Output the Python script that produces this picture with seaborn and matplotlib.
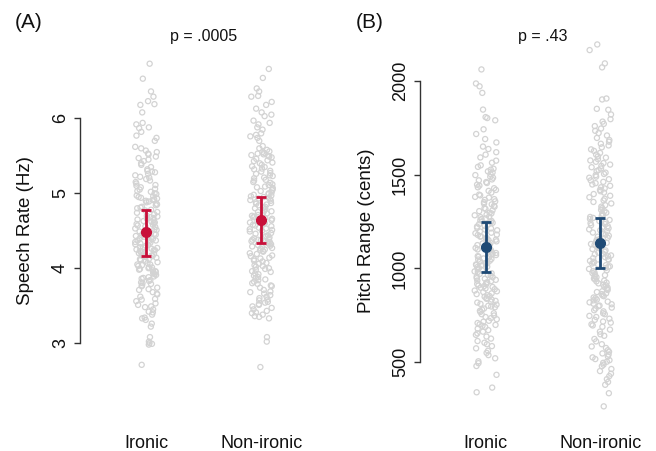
import matplotlib
matplotlib.use("Agg")
import matplotlib.pyplot as plt
import seaborn as sns
import pandas as pd
import numpy as np

# ---------------- data ----------------
categories = ["Ironic", "Non-ironic"]

rate_ironic = [
    2.71, 2.98, 2.99, 3.00, 3.02, 3.08, 3.22,
    3.26, 3.31, 3.33, 3.34, 3.38, 3.41, 3.42, 3.45, 3.48, 3.49,
    3.51, 3.53, 3.56, 3.58, 3.59, 3.62, 3.65, 3.66, 3.68, 3.71, 3.72, 3.74,
    3.76, 3.77, 3.79, 3.80, 3.81, 3.83, 3.84, 3.86, 3.87, 3.88, 3.89, 3.91,
    3.92, 3.93, 3.95, 3.95, 3.96, 3.97, 3.98, 3.99,
    4.00, 4.01, 4.01, 4.03, 4.04, 4.05, 4.05, 4.07, 4.08, 4.10, 4.11, 4.12,
    4.12, 4.14, 4.15, 4.16, 4.17, 4.17, 4.19, 4.20, 4.21, 4.22, 4.23, 4.24, 4.24,
    4.25, 4.26, 4.27, 4.28, 4.28, 4.30, 4.31, 4.32, 4.33, 4.34, 4.35, 4.36,
    4.37, 4.37, 4.38, 4.39, 4.40, 4.41, 4.42, 4.43, 4.44, 4.45, 4.46, 4.47, 4.49,
    4.50, 4.51, 4.52, 4.53, 4.55, 4.56, 4.57, 4.58, 4.59, 4.60, 4.61, 4.62,
    4.63, 4.64, 4.65, 4.66, 4.67, 4.68, 4.69, 4.70, 4.72, 4.74,
    4.75, 4.77, 4.78, 4.80, 4.81, 4.82, 4.84, 4.85, 4.86, 4.88, 4.89, 4.90,
    4.91, 4.92, 4.93, 4.94, 4.95, 4.96, 4.97, 4.99,
    5.00, 5.02, 5.03, 5.05, 5.06, 5.08, 5.10, 5.11, 5.13, 5.15, 5.17, 5.19,
    5.21, 5.22, 5.24,
    5.26, 5.28, 5.29, 5.30, 5.32, 5.35, 5.38, 5.40, 5.43, 5.45, 5.47, 5.49,
    5.52, 5.53, 5.55, 5.57, 5.60, 5.62, 5.70, 5.74,
    5.77, 5.82, 5.87, 5.88, 5.92, 5.94,
    6.08, 6.18, 6.19, 6.23, 6.29, 6.36, 6.53, 6.73,
]

rate_nonironic = [
    2.68, 3.02, 3.08,
    3.33, 3.35, 3.36, 3.38, 3.40, 3.41, 3.43, 3.45, 3.47, 3.49,
    3.51, 3.52, 3.54, 3.55, 3.57, 3.58, 3.60, 3.62, 3.64, 3.66, 3.68, 3.69, 3.71, 3.74,
    3.76, 3.77, 3.79, 3.80, 3.82, 3.84, 3.85, 3.87, 3.88, 3.90, 3.92, 3.93,
    3.95, 3.96, 3.98, 3.99,
    4.00, 4.02, 4.03, 4.04, 4.06, 4.07, 4.09, 4.10, 4.12, 4.13, 4.14, 4.16,
    4.17, 4.19, 4.20, 4.22, 4.23, 4.24,
    4.25, 4.26, 4.27, 4.28, 4.29, 4.30, 4.31, 4.32, 4.33, 4.34, 4.35, 4.36,
    4.37, 4.38, 4.38, 4.39, 4.40, 4.41, 4.42, 4.43, 4.44, 4.46, 4.47, 4.49,
    4.50, 4.51, 4.52, 4.53, 4.54, 4.56, 4.57, 4.58, 4.59, 4.60, 4.61, 4.62,
    4.63, 4.64, 4.66, 4.67, 4.68, 4.69, 4.70, 4.71, 4.73, 4.74,
    4.75, 4.76, 4.77, 4.79, 4.80, 4.81, 4.82, 4.84, 4.85, 4.86, 4.87, 4.88,
    4.90, 4.91, 4.92, 4.93, 4.94, 4.95, 4.96, 4.97, 4.98, 4.99,
    5.00, 5.01, 5.03, 5.04, 5.05, 5.07, 5.08, 5.09, 5.11, 5.12, 5.14, 5.15,
    5.17, 5.18, 5.20, 5.21, 5.23, 5.24,
    5.26, 5.27, 5.29, 5.30, 5.32, 5.33, 5.35, 5.36, 5.38, 5.40, 5.41, 5.43,
    5.44, 5.46, 5.48, 5.49,
    5.50, 5.51, 5.52, 5.53, 5.54, 5.55, 5.56, 5.58, 5.60, 5.63, 5.70, 5.74,
    5.76, 5.78, 5.80, 5.85, 5.88, 5.92, 5.94, 5.97,
    6.03, 6.05, 6.08, 6.13, 6.18, 6.22, 6.29, 6.30, 6.36, 6.40, 6.54, 6.66,
]

pitch_ironic = [
    340, 365, 433, 480, 495,
    505, 521, 538, 550, 561, 574, 586, 596,
    604, 613, 626, 637, 646, 654, 663, 671, 679, 688, 694, 699,
    702, 709, 716, 721, 729, 735, 741, 749, 756, 761, 768, 774, 781, 786, 793, 797,
    801, 807, 811, 818, 823, 827, 834, 838, 842, 849, 852, 857, 863, 867, 874,
    878, 882, 889, 893, 897,
    901, 906, 909, 915, 917, 923, 926, 932, 935, 939, 945, 948, 953, 956, 962,
    965, 971, 974, 981, 984, 991, 995,
    1002, 1007, 1009, 1015, 1018, 1021, 1027, 1029, 1035, 1038, 1041, 1047,
    1050, 1053, 1059, 1062, 1065, 1071, 1073, 1079, 1082, 1089, 1092, 1098,
    1101, 1107, 1109, 1116, 1118, 1124, 1127, 1133, 1136, 1142, 1144, 1151,
    1153, 1160, 1162, 1169, 1171, 1178, 1180, 1187, 1190, 1197,
    1203, 1207, 1213, 1216, 1223, 1226, 1233, 1236, 1243, 1246, 1253, 1256,
    1263, 1266, 1273, 1276, 1283, 1286, 1293, 1296,
    1305, 1309, 1317, 1321, 1329, 1333, 1341, 1345, 1353, 1357, 1365, 1369,
    1377, 1381, 1389, 1393,
    1404, 1413, 1418, 1427, 1432, 1441, 1446, 1455, 1460, 1469, 1474, 1483, 1488, 1497,
    1503, 1511, 1517, 1526, 1531, 1541, 1549, 1563, 1574, 1591,
    1606, 1619, 1636, 1649, 1671, 1689,
    1716, 1741, 1789, 1801, 1806, 1846,
    1935, 1970, 1985, 2060,
]

pitch_nonironic = [
    265, 335, 380, 395,
    410, 426, 439, 453, 464, 479, 487, 497,
    503, 511, 517, 526, 531, 541, 547, 556, 564, 576, 584, 596,
    611, 624, 641, 649, 663, 674, 689, 696,
    702, 711, 717, 726, 732, 741, 747, 756, 761, 771, 777, 786, 791, 799,
    802, 809, 812, 819, 823, 830, 834, 841, 845, 852, 856, 863, 867, 874, 878,
    885, 889, 897,
    903, 909, 913, 920, 924, 931, 935, 942, 946, 953, 957, 964, 968, 975, 979,
    986, 990, 997,
    1002, 1008, 1011, 1017, 1021, 1026, 1031, 1036, 1040, 1046, 1049, 1055,
    1060, 1064, 1069, 1075, 1078, 1084, 1089, 1096,
    1103, 1108, 1114, 1119, 1125, 1130, 1136, 1141, 1147, 1152, 1158, 1163,
    1169, 1174, 1180, 1185, 1191, 1197,
    1203, 1208, 1214, 1219, 1225, 1230, 1236, 1241, 1247, 1252, 1258, 1263,
    1269, 1274, 1280, 1285, 1291, 1297,
    1305, 1312, 1321, 1329, 1337, 1346, 1354, 1362, 1371, 1379, 1387, 1396,
    1404, 1411, 1418, 1426, 1432, 1440, 1447, 1454, 1461, 1469, 1475, 1483,
    1489, 1497,
    1503, 1510, 1518, 1524, 1532, 1539, 1546, 1553, 1561, 1568, 1575, 1582,
    1590, 1597,
    1606, 1615, 1626, 1634, 1645, 1655, 1664, 1675, 1684, 1695,
    1708, 1721, 1733, 1745, 1758, 1770, 1782, 1795,
    1820, 1845, 1850, 1900, 1905,
    2071, 2092, 2163, 2193,
]

# summary estimates with interval
rate_mean = [4.48, 4.64]
rate_lo = [4.16, 4.33]
rate_hi = [4.78, 4.95]
pitch_mean = [1116, 1137]
pitch_lo = [981, 1004]
pitch_hi = [1249, 1269]

p_labels = ["p = .0005", "p = .43"]
panel_tags = ["(A)", "(B)"]
ylabels = ["Speech Rate (Hz)", "Pitch Range (cents)"]
rate_ticks = [3, 4, 5, 6]
pitch_ticks = [500, 1000, 1500, 2000]

# ---------------- build frames ----------------
df_rate = pd.DataFrame({
    "cond": [categories[0]] * len(rate_ironic) + [categories[1]] * len(rate_nonironic),
    "val": rate_ironic + rate_nonironic,
})
df_pitch = pd.DataFrame({
    "cond": [categories[0]] * len(pitch_ironic) + [categories[1]] * len(pitch_nonironic),
    "val": pitch_ironic + pitch_nonironic,
})

sns.set_theme(style="white")
plt.rcParams["font.family"] = ["Liberation Sans", "DejaVu Sans"]

W, H = 656, 451
fig = plt.figure(figsize=(W / 100, H / 100), dpi=100)

point_gray = "#d3d3d3"
red = "#c8103a"
blue = "#1f4a75"
txt = "#111111"

panels = [
    dict(df=df_rate, left=80, width=240, xlim=(-0.575, 1.51), ylim=(1.96, 7.18),
         ticks=rate_ticks, mean=rate_mean, lo=rate_lo, hi=rate_hi, color=red,
         ylab_x=-0.19, tag_x=15),
    dict(df=df_pitch, left=420, width=232, xlim=(-0.575, 1.45), ylim=(187, 2270),
         ticks=pitch_ticks, mean=pitch_mean, lo=pitch_lo, hi=pitch_hi, color=blue,
         ylab_x=-0.195, tag_x=356),
]

ax_top, ax_bot = 30, 421
for i, p in enumerate(panels):
    ax = fig.add_axes([p["left"] / W, (H - ax_bot) / H, p["width"] / W, (ax_bot - ax_top) / H])
    sns.stripplot(data=p["df"], x="cond", y="val", order=categories, ax=ax,
                  jitter=0.1, size=3.7, color=point_gray, linewidth=0.9,
                  edgecolor=point_gray, zorder=1)
    for coll in ax.collections:
        coll.set_facecolor("none")
        coll.set_edgecolor(point_gray)
        coll.set_linewidth(0.9)

    xs = np.arange(len(categories))
    mean = np.array(p["mean"])
    yerr = np.vstack([mean - np.array(p["lo"]), np.array(p["hi"]) - mean])
    ax.errorbar(xs, mean, yerr=yerr, fmt="o", color=p["color"], ecolor=p["color"],
                elinewidth=2.0, capsize=3.8, capthick=2.0, markersize=7, zorder=5)

    ax.set_xlim(*p["xlim"])
    ax.set_ylim(*p["ylim"])
    ax.set_yticks(p["ticks"])
    ax.set_yticklabels([str(t) for t in p["ticks"]])
    for sp in ["top", "right", "bottom"]:
        ax.spines[sp].set_visible(False)
    ax.spines["left"].set_bounds(p["ticks"][0], p["ticks"][-1])
    ax.spines["left"].set_color("#333333")
    ax.spines["left"].set_linewidth(1.0)
    ax.tick_params(axis="y", length=4, width=1.0, color="#333333", pad=4,
                   labelsize=13, labelcolor=txt, left=True)
    for lbl in ax.get_yticklabels():
        lbl.set_rotation(90)
        lbl.set_va("center")
        lbl.set_ha("right")
    ax.tick_params(axis="x", length=0, pad=10, labelsize=13, labelcolor=txt)
    ax.set_xlabel("")
    ax.set_ylabel(ylabels[i], fontsize=13.5, color=txt)
    ax.yaxis.set_label_coords(p["ylab_x"], 0.486)
    ax.grid(False)
    ax.patch.set_alpha(0)

    ax.text(0.5, (ax_bot - 36) / (ax_bot - ax_top), p_labels[i],
            transform=ax.get_xaxis_transform(), ha="center", va="center",
            fontsize=11.5, color=txt)
    fig.text(p["tag_x"] / W, 1 - 22 / H, panel_tags[i], ha="left", va="center",
             fontsize=15, color=txt)

fig.savefig("out.png", dpi=100)
